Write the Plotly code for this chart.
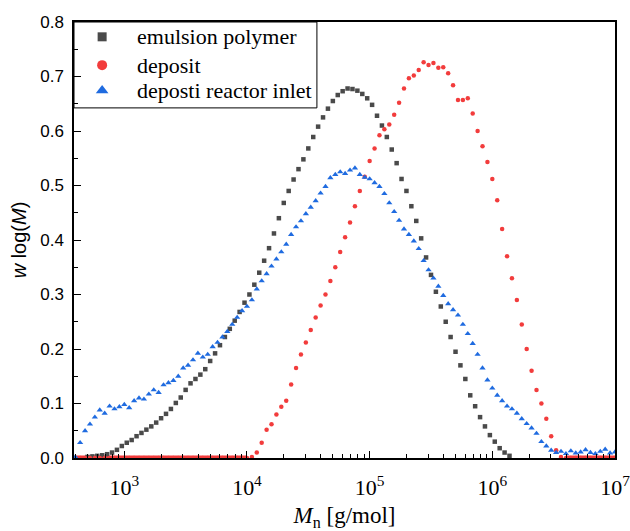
import plotly.graph_objects as go

# ---- data (log10 of molar mass, w log(M)) ----
emulsion_logM = [2.70, 2.74, 2.78, 2.82, 2.86, 2.90, 2.94, 2.98, 3.02, 3.06, 3.10, 3.14, 3.18, 3.22, 3.26,
                 3.30, 3.34, 3.38, 3.42, 3.46, 3.50, 3.54, 3.58, 3.62, 3.66, 3.70, 3.74, 3.78, 3.82, 3.86,
                 3.90, 3.94, 3.98, 4.02, 4.06, 4.10, 4.14, 4.18, 4.22, 4.26, 4.30, 4.34, 4.38, 4.42, 4.46,
                 4.50, 4.54, 4.58, 4.62, 4.66, 4.70, 4.74, 4.78, 4.82, 4.86, 4.90, 4.94, 4.98, 5.02, 5.06,
                 5.10, 5.14, 5.18, 5.22, 5.26, 5.30, 5.34, 5.38, 5.42, 5.46, 5.50, 5.54, 5.58, 5.62, 5.66,
                 5.70, 5.74, 5.78, 5.82, 5.86, 5.90, 5.94, 5.98, 6.02, 6.06, 6.10, 6.14]
emulsion_w = [0.002, 0.003, 0.004, 0.005, 0.007, 0.010, 0.015, 0.022, 0.028, 0.033, 0.040, 0.046, 0.052, 0.058, 0.065,
              0.073, 0.081, 0.090, 0.101, 0.111, 0.125, 0.137, 0.145, 0.153, 0.163, 0.178, 0.192, 0.207, 0.222, 0.237,
              0.252, 0.268, 0.285, 0.300, 0.318, 0.340, 0.362, 0.385, 0.412, 0.440, 0.468, 0.490, 0.511, 0.530, 0.548,
              0.568, 0.589, 0.608, 0.625, 0.641, 0.655, 0.666, 0.673, 0.678, 0.677, 0.674, 0.668, 0.660, 0.648, 0.628,
              0.610, 0.589, 0.566, 0.541, 0.512, 0.490, 0.462, 0.435, 0.403, 0.368, 0.336, 0.305, 0.278, 0.250, 0.222,
              0.195, 0.170, 0.145, 0.115, 0.095, 0.075, 0.058, 0.042, 0.030, 0.018, 0.010, 0.004]

deposit_logM = [2.60, 2.64, 2.68, 2.72, 2.76, 2.80, 2.84, 2.88, 2.92, 2.96, 3.00, 3.04, 3.08, 3.12, 3.16,
                3.20, 3.24, 3.28, 3.32, 3.36, 3.40, 3.44, 3.48, 3.52, 3.56, 3.60, 3.64, 3.68, 3.72, 3.76,
                3.80, 3.84, 3.88, 3.92, 3.96, 4.00, 4.04, 4.08, 4.12, 4.16, 4.20, 4.24, 4.28, 4.32, 4.36,
                4.40, 4.44, 4.48, 4.52, 4.56, 4.60, 4.64, 4.68, 4.72, 4.76, 4.80, 4.84, 4.88, 4.92, 4.96,
                5.00, 5.04, 5.08, 5.12, 5.16, 5.20, 5.24, 5.28, 5.32, 5.36, 5.40, 5.44, 5.48, 5.52, 5.56,
                5.60, 5.64, 5.68, 5.72, 5.76, 5.80, 5.84, 5.88, 5.92, 5.96, 6.00, 6.04, 6.08, 6.12, 6.16,
                6.20, 6.24, 6.28, 6.32, 6.36, 6.40, 6.44, 6.48, 6.52, 6.56, 6.60, 6.64, 6.68, 6.72, 6.76,
                6.80, 6.84, 6.88, 6.92, 6.96, 7.00]
deposit_w = [0.0, 0.0, 0.0, 0.0, 0.0, 0.0, 0.0, 0.0, 0.0, 0.0, 0.0, 0.0, 0.0, 0.0, 0.0,
             0.0, 0.0, 0.0, 0.0, 0.0, 0.0, 0.0, 0.0, 0.0, 0.0, 0.0, 0.0, 0.0, 0.0, 0.0,
             0.0, 0.0, 0.0, 0.0, 0.0, 0.0, 0.002, 0.010, 0.028, 0.052, 0.062, 0.080, 0.094, 0.105, 0.135,
             0.165, 0.190, 0.212, 0.235, 0.258, 0.280, 0.300, 0.325, 0.350, 0.378, 0.405, 0.432, 0.462, 0.490, 0.516,
             0.545, 0.568, 0.592, 0.603, 0.612, 0.630, 0.652, 0.678, 0.697, 0.702, 0.712, 0.726, 0.721, 0.725, 0.716,
             0.717, 0.706, 0.684, 0.657, 0.657, 0.660, 0.632, 0.600, 0.572, 0.543, 0.512, 0.473, 0.420, 0.370, 0.330,
             0.290, 0.245, 0.200, 0.160, 0.125, 0.100, 0.072, 0.040, 0.014, 0.002, 0.0, 0.0, 0.0, 0.0, 0.0,
             0.0, 0.0, 0.0, 0.0, 0.0, 0.0]

inlet_logM = [2.60, 2.64, 2.68, 2.72, 2.76, 2.80, 2.84, 2.88, 2.92, 2.96, 3.00, 3.04, 3.08, 3.12, 3.16,
              3.20, 3.24, 3.28, 3.32, 3.36, 3.40, 3.44, 3.48, 3.52, 3.56, 3.60, 3.64, 3.68, 3.72, 3.76,
              3.80, 3.84, 3.88, 3.92, 3.96, 4.00, 4.04, 4.08, 4.12, 4.16, 4.20, 4.24, 4.28, 4.32, 4.36,
              4.40, 4.44, 4.48, 4.52, 4.56, 4.60, 4.64, 4.68, 4.72, 4.76, 4.80, 4.84, 4.88, 4.92, 4.96,
              5.00, 5.04, 5.08, 5.12, 5.16, 5.20, 5.24, 5.28, 5.32, 5.36, 5.40, 5.44, 5.48, 5.52, 5.56,
              5.60, 5.64, 5.68, 5.72, 5.76, 5.80, 5.84, 5.88, 5.92, 5.96, 6.00, 6.04, 6.08, 6.12, 6.16,
              6.20, 6.24, 6.28, 6.32, 6.36, 6.40, 6.44, 6.48, 6.52, 6.56, 6.60, 6.64, 6.68, 6.72, 6.76,
              6.80, 6.84, 6.88, 6.92, 6.96, 7.00]
inlet_w = [0.002, 0.028, 0.050, 0.062, 0.075, 0.088, 0.082, 0.095, 0.090, 0.094, 0.098, 0.092, 0.105, 0.110, 0.108,
           0.117, 0.125, 0.120, 0.134, 0.138, 0.142, 0.150, 0.165, 0.170, 0.180, 0.192, 0.185, 0.190, 0.204, 0.212,
           0.222, 0.232, 0.245, 0.258, 0.270, 0.278, 0.290, 0.310, 0.325, 0.338, 0.352, 0.365, 0.378, 0.392, 0.410,
           0.424, 0.435, 0.448, 0.460, 0.472, 0.486, 0.498, 0.514, 0.520, 0.525, 0.522, 0.528, 0.532, 0.520, 0.515,
           0.512, 0.505, 0.498, 0.485, 0.468, 0.452, 0.436, 0.420, 0.410, 0.398, 0.384, 0.362, 0.345, 0.330, 0.315,
           0.298, 0.283, 0.272, 0.262, 0.245, 0.228, 0.210, 0.190, 0.165, 0.143, 0.128, 0.115, 0.105, 0.095, 0.090,
           0.082, 0.072, 0.063, 0.055, 0.045, 0.030, 0.022, 0.014, 0.010, 0.012, 0.008, 0.013, 0.009, 0.011, 0.015,
           0.010, 0.008, 0.012, 0.016, 0.009, 0.011]

series_names = ["emulsion polymer", "deposit", "deposti reactor inlet"]
series_colors = ["#4a4a4a", "#f23c3c", "#1f6be0"]
series_symbols = ["square", "circle", "triangle-up"]

x_tick_exponents = [3, 4, 5, 6, 7]
y_tick_vals = [0.0, 0.1, 0.2, 0.3, 0.4, 0.5, 0.6, 0.7, 0.8]

X_RANGE_LOG = [2.59, 7.0]
Y_RANGE = [0.0, 0.8]

SERIF = "Liberation Serif, Times New Roman, Times, serif"
SANS = "Liberation Sans, Arial, Helvetica, sans-serif"

fig = go.Figure()

# red baseline (deposit values equal to zero drawn as a continuous band)
fig.add_trace(go.Scatter(
    x=[10 ** lx if w == 0 else None for lx, w in zip(deposit_logM, deposit_w)],
    y=[w if w == 0 else None for w in deposit_w],
    mode="lines", line=dict(color=series_colors[1], width=5), showlegend=False, hoverinfo="skip",
    connectgaps=False,
))

data = [(emulsion_logM, emulsion_w), (deposit_logM, deposit_w), (inlet_logM, inlet_w)]
sizes = [4.5, 4.5, 5.5]
for (lx, w), name, col, sym, sz in zip(data, series_names, series_colors, series_symbols, sizes):
    fig.add_trace(go.Scatter(
        x=[10 ** v for v in lx], y=w, mode="markers", name=name, showlegend=False,
        marker=dict(symbol=sym, size=sz, color=col, line=dict(width=0)),
    ))

# ---- legend key (box in the top-left corner of the plot area, fractions of the plot area) ----
legend_box = dict(x0=0.0, x1=0.449, y0=0.803, y1=1.0)
legend_sym_x = 0.052
legend_text_x = 0.113
legend_rows_y = [0.966, 0.901, 0.843]
legend_sym_sizes = [9, 10, 11]

fig.add_shape(type="rect", xref="paper", yref="paper", **legend_box,
              line=dict(color="black", width=1), fillcolor="rgba(0,0,0,0)", layer="above")
key_x = 10 ** (X_RANGE_LOG[0] + legend_sym_x * (X_RANGE_LOG[1] - X_RANGE_LOG[0]))
key_y = [Y_RANGE[0] + f * (Y_RANGE[1] - Y_RANGE[0]) for f in legend_rows_y]
for col, sym, sz, ky in zip(series_colors, series_symbols, legend_sym_sizes, key_y):
    fig.add_trace(go.Scatter(
        x=[key_x], y=[ky], mode="markers",
        marker=dict(symbol=sym, size=sz, color=col, opacity=1, line=dict(width=0)),
        showlegend=False, hoverinfo="skip",
    ))
for name, ry in zip(series_names, legend_rows_y):
    fig.add_annotation(x=legend_text_x, y=ry, xref="paper", yref="paper", text=name, showarrow=False,
                       xanchor="left", yanchor="middle",
                       font=dict(family=SERIF, size=22, color="black"))

x_major = [10 ** e for e in x_tick_exponents]
x_minor = [m * 10 ** e for e in range(2, 7) for m in range(2, 10)]

fig.update_layout(
    width=630, height=531, autosize=False,
    margin=dict(l=74, r=15, t=22, b=73, autoexpand=False),
    plot_bgcolor="white", paper_bgcolor="white",
    showlegend=False,
)
fig.update_layout(xaxis=dict(
    type="log", range=X_RANGE_LOG, automargin=False,
    tickvals=x_major, ticktext=["10<sup>%d</sup>" % e for e in x_tick_exponents],
    ticks="inside", ticklen=7, tickwidth=1.3, tickcolor="black", ticklabelstandoff=9,
    ticklabeloverflow="allow",
    minor=dict(ticks="inside", ticklen=4, tickwidth=1.2, tickcolor="black", tickvals=x_minor, showgrid=False),
    showline=True, linecolor="black", linewidth=1.5, mirror=True,
    showgrid=False, zeroline=False,
    tickfont=dict(family=SERIF, size=22, color="black"),
    title=dict(text="<i>M</i><sub>n</sub> [g/mol]", font=dict(family=SERIF, size=23, color="black"), standoff=11),
))
fig.update_layout(yaxis=dict(
    range=Y_RANGE, tickvals=y_tick_vals, tickformat=".1f", automargin=False,
    ticks="inside", ticklen=7, tickwidth=1.3, tickcolor="black", ticklabelstandoff=5,
    minor=dict(ticks="inside", ticklen=4, tickwidth=1.2, tickcolor="black", dtick=0.05, showgrid=False),
    showline=True, linecolor="black", linewidth=1.5, mirror=True,
    showgrid=False, zeroline=False,
    tickfont=dict(family=SANS, size=17, color="black"),
    title=dict(text="<i>w</i> log(<i>M</i>)", font=dict(family=SANS, size=20, color="black"), standoff=8),
))

fig.write_html(
    "out.html",
    config={"displayModeBar": False},
    post_script="document.body.style.margin='0';document.body.style.padding='0';",
)
